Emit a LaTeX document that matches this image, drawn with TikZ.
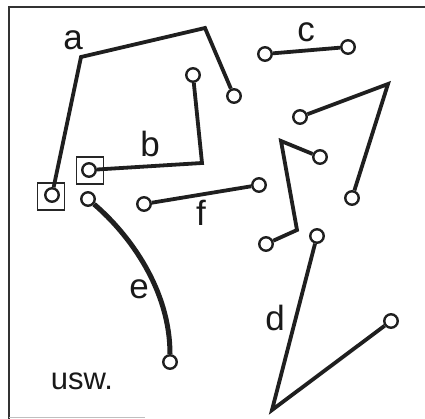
\documentclass[tikz,border=0pt]{standalone}
\usepackage{fontspec}
\setmainfont{Liberation Sans}
\begin{document}
\begin{tikzpicture}[x=1pt,y=-1pt,
  term/.style={circle,draw=black!88,fill=white,inner sep=0pt,minimum size=13.5pt,line width=2.4pt},
  boxmark/.style={rectangle,draw=black!85,inner sep=0pt,minimum size=27pt,line width=1.4pt},
  wire/.style={line width=3.8pt,line join=miter,draw=black!88},
  thickwire/.style={line width=5pt,draw=black!88},
  lbl/.style={font=\fontsize{35}{35}\selectfont,inner sep=0pt,text=black!90},
  frameline/.style={line width=2pt,draw=black!80}]
\useasboundingbox (0,0) rectangle (425,419);
% frame
\coordinate (fTL) at (9,7);
\coordinate (fBL) at (9,419);
\coordinate (fTR) at (425,7);
\coordinate (fB1) at (9,417);
\coordinate (fB2) at (145,417);
\draw[frameline] (fBL) -- (fTL) -- (fTR);
\draw[line width=0.8pt,black!25] (fB1) -- (fB2);
% squares
\node[boxmark] (sqa) at (51,196.5) {};
\node[boxmark] (sqb) at (90,170.5) {};
% path a
\node[term] (a1) at (52,195) {};
\coordinate (a2) at (81,57);
\coordinate (a3) at (205,28);
\node[term] (a4) at (234,96) {};
\draw[wire] (a1) -- (a2) -- (a3) -- (a4);
\node[lbl] (la) at (73,40) {a};
% path b
\node[term] (b1) at (89,170) {};
\coordinate (b2) at (202,163);
\node[term] (b3) at (193,75) {};
\draw[wire] (b1) -- (b2) -- (b3);
\node[lbl] (lb) at (150,144) {b};
% path c
\node[term] (c1) at (265,54) {};
\node[term] (c2) at (348,47) {};
\draw[wire] (c1) -- (c2);
\node[lbl] (lc) at (306,32) {c};
% unlabeled path upper right
\node[term] (g1) at (300,117) {};
\coordinate (g2) at (388,84);
\node[term] (g3) at (352,198) {};
\draw[wire] (g1) -- (g2) -- (g3);
% zigzag path
\node[term] (h1) at (320,157) {};
\coordinate (h2) at (281,141);
\coordinate (h3) at (297,230);
\node[term] (h4) at (266,244) {};
\draw[wire] (h1) -- (h2) -- (h3) -- (h4);
% path d
\node[term] (d1) at (317,236) {};
\coordinate (d2) at (272,410);
\node[term] (d3) at (391,321) {};
\draw[wire] (d1) -- (d2) -- (d3);
\node[lbl] (ld) at (275,318) {d};
% path f
\node[term] (f1) at (144,204) {};
\node[term] (f2) at (259,185) {};
\draw[wire] (f1) -- (f2);
\node[lbl] (lf) at (201,213) {f};
% path e
\node[term] (e1) at (88,199) {};
\node[term] (e2) at (170,362) {};
\draw[thickwire] (e1) .. controls (130,235) and (170,290) .. (e2);
\node[lbl] (le) at (139,289) {e};
% usw.
\node[font=\fontsize{31}{31}\selectfont,inner sep=0pt,text=black!90] (usw) at (82,381) {usw.};
\end{tikzpicture}
\end{document}
